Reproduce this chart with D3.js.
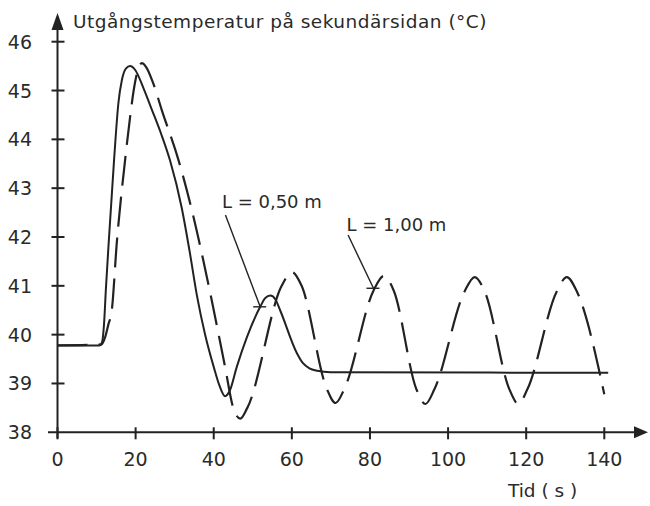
<!DOCTYPE html>
<html>
<head>
<meta charset="utf-8">
<script src="https://cdn.jsdelivr.net/npm/d3@7"></script>
<style>
  body { margin: 0; background: #fff; }
  text { font-family: "DejaVu Sans", sans-serif; fill: #2a2a2a; }
</style>
</head>
<body>
<script>
// Solid curve, L = 0,50 m  [tid (s), temperatur (C)]
const solidL050 = [
  [0, 39.78], [10.8, 39.78], [11.4, 39.84], [11.9, 40.2], [12.4, 40.95], [13.2, 42.0],
  [14.5, 43.6], [15.6, 44.75], [16.5, 45.22], [17.5, 45.45], [18.6, 45.5], [19.9, 45.42],
  [22, 45.05], [24.2, 44.6], [26.5, 44.12], [28.8, 43.57], [31.8, 42.6], [33.8, 41.72],
  [35.7, 40.8], [37.8, 40.0], [40, 39.34], [41.5, 38.95], [42.9, 38.74],
  [44.1, 38.85], [45.9, 39.34], [48.5, 39.95], [51.9, 40.57], [53.2, 40.75], [54.5, 40.8],
  [55.8, 40.72], [57, 40.5], [61.3, 39.62], [62.8, 39.42], [64.5, 39.31], [66.5, 39.26],
  [69.9, 39.23], [141, 39.22]
];

// Dashed curve, L = 1,00 m
const dashedL100 = [
  [0, 39.78], [11.3, 39.8], [12.2, 39.95], [13, 40.2], [13.9, 40.5], [15.2, 41.9],
  [17.3, 43.57], [18.5, 44.4], [19.5, 45.0], [20.5, 45.4], [21.6, 45.56], [22.7, 45.48],
  [24.5, 45.15], [26.7, 44.6], [31, 43.57], [34.4, 42.55], [39.5, 40.7], [42.9, 39.34],
  [45, 38.5], [46.8, 38.28], [48.6, 38.5],
  [57.4, 41.0], [60, 41.28], [62.5, 41.0],
  [68.9, 38.9], [71.2, 38.6], [73.5, 38.9],
  [80.9, 40.9], [83.5, 41.2], [86.1, 40.9],
  [91.9, 38.88], [94.2, 38.58], [96.5, 38.88],
  [104.2, 40.88], [106.8, 41.18], [109.4, 40.88],
  [115.7, 38.88], [118.0, 38.58], [120.3, 38.88],
  [127.8, 40.88], [130.4, 41.18], [133, 40.88],
  [140, 38.78]
];

const xTicks = [0, 20, 40, 60, 80, 100, 120, 140];
const yTicks = [38, 39, 40, 41, 42, 43, 44, 45, 46];

// labels: text anchor point, leader start, leader end (data coords)
const labels = [
  { text: "L = 0,50 m", at: [42.1, 42.59], from: [43.0, 42.45], to: [51.9, 40.57] },
  { text: "L = 1,00 m", at: [74.0, 42.13], from: [74.4, 42.04], to: [80.9, 40.95] }
];

const W = 650, H = 506;
const ink = "#222";

const x = d3.scaleLinear().domain([0, 140]).range([57.5, 604.3]);
const y = d3.scaleLinear().domain([38, 46]).range([432.3, 41.7]);

const svg = d3.select("body").append("svg")
  .attr("width", W)
  .attr("height", H)
  .attr("viewBox", `0 0 ${W} ${H}`);

svg.append("rect").attr("width", W).attr("height", H).attr("fill", "#fff");

// axes
svg.append("line")
  .attr("x1", x(0)).attr("y1", y(38) + 6)
  .attr("x2", x(0)).attr("y2", 26)
  .attr("stroke", ink).attr("stroke-width", 2);
svg.append("path")
  .attr("d", `M${x(0) - 6},30 L${x(0)},13 L${x(0) + 6},30 Z`)
  .attr("fill", ink);

svg.append("line")
  .attr("x1", 48).attr("y1", y(38))
  .attr("x2", 640).attr("y2", y(38))
  .attr("stroke", ink).attr("stroke-width", 2);
svg.append("path")
  .attr("d", `M634,${y(38) - 6} L648,${y(38)} L634,${y(38) + 6} Z`)
  .attr("fill", ink);

// y ticks
svg.selectAll(".ytick").data(yTicks.slice(1)).join("line")
  .attr("x1", x(0) - 6).attr("x2", x(0) + 7)
  .attr("y1", d => y(d)).attr("y2", d => y(d))
  .attr("stroke", ink).attr("stroke-width", 2);
svg.selectAll(".ylab").data(yTicks).join("text")
  .attr("x", 32).attr("y", d => y(d) + 7)
  .attr("text-anchor", "end")
  .attr("font-size", 19)
  .text(d => d);

// x ticks
svg.selectAll(".xtick").data(xTicks).join("line")
  .attr("x1", d => x(d)).attr("x2", d => x(d))
  .attr("y1", y(38) - 5).attr("y2", y(38) + 7)
  .attr("stroke", ink).attr("stroke-width", 2);
svg.selectAll(".xlab").data(xTicks).join("text")
  .attr("x", d => x(d)).attr("y", 466)
  .attr("text-anchor", "middle")
  .attr("font-size", 19)
  .text(d => d);

// axis titles
svg.append("text")
  .attr("x", 73).attr("y", 28)
  .attr("font-size", 18.5)
  .attr("letter-spacing", 0.5)
  .text("Utgångstemperatur på sekundärsidan (°C)");
svg.append("text")
  .attr("x", 508).attr("y", 497)
  .attr("font-size", 18.5)
  .text("Tid ( s )");

// curves
const line = d3.line()
  .x(d => x(d[0]))
  .y(d => y(d[1]))
  .curve(d3.curveMonotoneX);

svg.append("path")
  .attr("d", line(solidL050))
  .attr("fill", "none")
  .attr("stroke", ink)
  .attr("stroke-width", 2);

svg.append("path")
  .attr("d", line(dashedL100))
  .attr("fill", "none")
  .attr("stroke", ink)
  .attr("stroke-width", 2.2)
  .attr("stroke-dasharray", "30,11");

// curve labels with leader lines
labels.forEach(l => {
  svg.append("text")
    .attr("x", x(l.at[0])).attr("y", y(l.at[1]))
    .attr("font-size", 18)
    .text(l.text);
  svg.append("line")
    .attr("x1", x(l.from[0])).attr("y1", y(l.from[1]))
    .attr("x2", x(l.to[0])).attr("y2", y(l.to[1]))
    .attr("stroke", ink).attr("stroke-width", 1.4);
  svg.append("line")
    .attr("x1", x(l.to[0]) - 7).attr("y1", y(l.to[1]))
    .attr("x2", x(l.to[0]) + 6).attr("y2", y(l.to[1]))
    .attr("stroke", ink).attr("stroke-width", 1.4);
});
</script>
</body>
</html>
